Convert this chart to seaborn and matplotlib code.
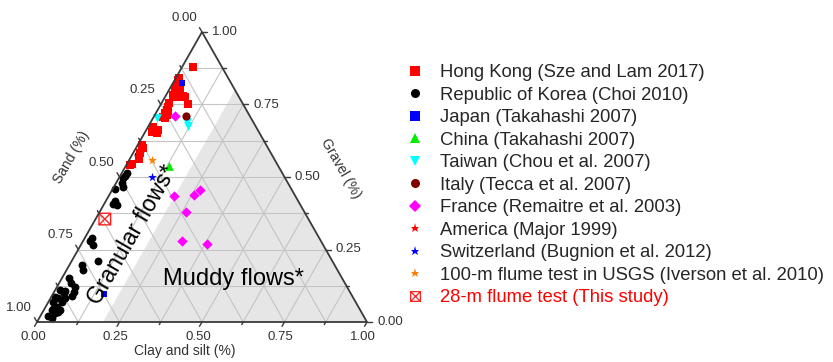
import numpy as np
import matplotlib
matplotlib.use("Agg")
import matplotlib.pyplot as plt
from matplotlib.path import Path
from matplotlib.lines import Line2D
import seaborn as sns

# Grain-size composition of debris-flow samples, as fractions.
# Each series: clay-and-silt fraction and gravel fraction; sand = 1 - clay - gravel.
hk_clay = [0.033, 0.009, 0.011, 0.017, 0.030, 0.020, 0.034, 0.053, 0.035, 0.022, 0.060,
           0.081, 0.024, 0.027, 0.027, 0.028, 0.034, 0.029, 0.037, 0.036, 0.015, 0.027,
           0.037, 0.038, 0.020, 0.012, 0.022, 0.021, 0.029, 0.015, 0.011]
hk_gravel = [0.879, 0.842, 0.834, 0.811, 0.807, 0.797, 0.789, 0.780, 0.777, 0.783, 0.777,
             0.752, 0.754, 0.742, 0.731, 0.720, 0.728, 0.708, 0.702, 0.714, 0.673, 0.662,
             0.662, 0.651, 0.656, 0.610, 0.599, 0.582, 0.561, 0.545, 0.541]

korea_clay = [0.017, 0.019, 0.016, 0.015, 0.012, 0.018, 0.028, 0.007, 0.028, 0.028, 0.040,
              0.021, 0.037, 0.080, 0.037, 0.051, 0.020, 0.038, 0.054, 0.015, 0.031, 0.031,
              0.061, 0.060, 0.011, 0.024, 0.044, 0.014, 0.040, 0.034, 0.024, 0.040, 0.047,
              0.049, 0.027, 0.023, 0.038, 0.021]
korea_gravel = [0.590, 0.576, 0.513, 0.503, 0.497, 0.478, 0.467, 0.458, 0.417, 0.407, 0.403,
                0.289, 0.264, 0.212, 0.197, 0.178, 0.151, 0.133, 0.122, 0.110, 0.099, 0.108,
                0.104, 0.090, 0.087, 0.082, 0.082, 0.070, 0.070, 0.053, 0.041, 0.030, 0.036,
                0.041, 0.044, 0.021, 0.014, 0.278]

japan_clay = [0.027, 0.155]
japan_gravel = [0.823, 0.097]

china_clay = [0.129]
china_gravel = [0.539]

taiwan_clay = [0.012, 0.108, 0.120]
taiwan_gravel = [0.702, 0.691, 0.677]

italy_clay = [0.096]
italy_gravel = [0.710]

france_clay = [0.063, 0.197, 0.265, 0.258, 0.261, 0.300, 0.381]
france_gravel = [0.710, 0.436, 0.455, 0.438, 0.380, 0.281, 0.269]

america_clay = [0.020]
america_gravel = [0.665]

swiss_clay = [0.097]
swiss_gravel = [0.501]

usgs_clay = [0.070]
usgs_gravel = [0.559]

study_clay = [0.028]
study_gravel = [0.355]

tick_values = [0.0, 0.25, 0.50, 0.75, 1.00]
tick_labels = ["0.00", "0.25", "0.50", "0.75", "1.00"]

H = np.sqrt(3) / 2


def to_xy(clay, gravel):
    clay = np.asarray(clay, float)
    gravel = np.asarray(gravel, float)
    return clay + gravel / 2, gravel * H


sns.set_style("white")
plt.rcParams["font.family"] = ["Liberation Sans", "DejaVu Sans"]

fig = plt.figure(figsize=(8.33, 3.62), dpi=100)
# triangle occupies pixels x 37..367, y 32..322
ax = fig.add_axes([37 / 833, 40 / 362, 330 / 833, 290 / 362])
ax.set_xlim(0, 1)
ax.set_ylim(0, H)
ax.axis("off")

PX_X = 1 / 330.0   # data units per pixel, horizontal
PX_Y = H / 290.0   # data units per pixel, vertical

# muddy-flow field: clay and silt >= 0.2
mx, my = to_xy([0.2, 1.0, 0.2], [0.0, 0.0, 0.8])
ax.fill(mx, my, color="#e6e6e6", zorder=0, lw=0)

# grid lines every 0.125 in each component
grid_kw = dict(color="#c4c4c4", lw=0.8, zorder=1)
for v in np.arange(0.125, 1.0, 0.125):
    # constant gravel
    x, y = to_xy([0, 1 - v], [v, v])
    ax.plot(x, y, **grid_kw)
    # constant clay
    x, y = to_xy([v, v], [0, 1 - v])
    ax.plot(x, y, **grid_kw)
    # constant sand
    x, y = to_xy([1 - v, 0], [0, 1 - v])
    ax.plot(x, y, **grid_kw)

# outline
ox, oy = to_xy([0, 1, 0, 0], [0, 0, 1, 0])
ax.plot(ox, oy, color="#3a3a3a", lw=1.3, zorder=5, solid_joinstyle="miter",
        clip_on=False)

edge_kw = dict(color="#3a3a3a", lw=1.0, zorder=5, clip_on=False)
lab_kw = dict(fontsize=9.5, color="#333333", zorder=6)
for v in np.arange(0, 1.0001, 0.125):
    L = 5 if abs(v * 4 - round(v * 4)) < 1e-9 else 3
    # clay (bottom edge), ticks down-left
    bx, by = to_xy([v], [0])
    ax.plot([bx[0], bx[0] - 0.5 * L * PX_X], [by[0], by[0] - 0.866 * L * PX_Y], **edge_kw)
    # gravel (right edge), ticks to the right
    rx, ry = to_xy([1 - v], [v])
    ax.plot([rx[0], rx[0] + L * PX_X], [ry[0], ry[0]], **edge_kw)
    # sand (left edge), ticks up-left
    lx, ly = to_xy([0], [1 - v])
    ax.plot([lx[0], lx[0] - 0.5 * L * PX_X], [ly[0], ly[0] + 0.866 * L * PX_Y], **edge_kw)

for v, t in zip(tick_values, tick_labels):
    bx, by = to_xy([v], [0])
    ax.text(bx[0] - 4 * PX_X, by[0] - 15 * PX_Y, t, ha="center", va="center", **lab_kw)
    rx, ry = to_xy([1 - v], [v])
    ax.text(rx[0] + 10 * PX_X, ry[0], t, ha="left", va="center", **lab_kw)
    lx, ly = to_xy([0], [1 - v])
    ax.text(lx[0] - 5 * PX_X, ly[0] + 14 * PX_Y, t, ha="right", va="center", **lab_kw)

ax.text(0.448, -0.0866, "Clay and silt (%)", ha="center", va="center",
        fontsize=10, color="#333333")
ax.text((341 - 37) * PX_X, (322 - 168) * PX_Y, "Gravel (%)", ha="center", va="center",
        rotation=-60, fontsize=10, color="#333333")
ax.text((71 - 37) * PX_X, (322 - 157) * PX_Y, "Sand (%)", ha="center", va="center",
        rotation=60, fontsize=10, color="#333333")

ax.text((163 - 37) * PX_X, (322 - 285) * PX_Y, "Muddy flows*", ha="left", va="baseline",
        fontsize=17, color="black", zorder=7)
ax.text((133 - 37) * PX_X, (322 - 235) * PX_Y, "Granular flows*", ha="center",
        va="center", rotation=60, rotation_mode="anchor", fontsize=16.5,
        color="black", zorder=7)

# hollow square with a cross
box_x = Path([(-1, -1), (1, -1), (1, 1), (-1, 1), (-1, -1),
              (-1, -1), (1, 1), (-1, 1), (1, -1)],
             [Path.MOVETO, Path.LINETO, Path.LINETO, Path.LINETO, Path.CLOSEPOLY,
              Path.MOVETO, Path.LINETO, Path.MOVETO, Path.LINETO])

series = [
    ("Republic of Korea (Choi 2010)", korea_clay, korea_gravel, "o", "black", 32),
    ("Hong Kong (Sze and Lam 2017)", hk_clay, hk_gravel, "s", "#ff0000", 32),
    ("Japan (Takahashi 2007)", japan_clay, japan_gravel, "s", "#0000ff", 25),
    ("China (Takahashi 2007)", china_clay, china_gravel, "^", "#00ee00", 40),
    ("Taiwan (Chou et al. 2007)", taiwan_clay, taiwan_gravel, "v", "#00ffff", 40),
    ("Italy (Tecca et al. 2007)", italy_clay, italy_gravel, "o", "#800000", 35),
    ("France (Remaitre et al. 2003)", france_clay, france_gravel, "D", "#ff00ff", 28),
    ("America (Major 1999)", america_clay, america_gravel, "*", "#ff0000", 45),
    ("Switzerland (Bugnion et al. 2012)", swiss_clay, swiss_gravel, "*", "#0000ff", 45),
    ("100-m flume test in USGS (Iverson et al. 2010)", usgs_clay, usgs_gravel, "*",
     "#ff8000", 45),
]
for name, c, g, m, col, s in series:
    x, y = to_xy(c, g)
    sns.scatterplot(x=x, y=y, ax=ax, marker=m, color=col, s=s, linewidth=0,
                    legend=False, zorder=4, clip_on=False)

sx, sy = to_xy(study_clay, study_gravel)
ax.scatter(sx, sy, marker=box_x, s=70, facecolors="none", edgecolors="#ff2020",
           linewidths=1.0, zorder=4)

legend_items = [
    ("Hong Kong (Sze and Lam 2017)", "s", "#ff0000"),
    ("Republic of Korea (Choi 2010)", "o", "black"),
    ("Japan (Takahashi 2007)", "s", "#0000ff"),
    ("China (Takahashi 2007)", "^", "#00ee00"),
    ("Taiwan (Chou et al. 2007)", "v", "#00ffff"),
    ("Italy (Tecca et al. 2007)", "o", "#800000"),
    ("France (Remaitre et al. 2003)", "D", "#ff00ff"),
    ("America (Major 1999)", "*", "#ff0000"),
    ("Switzerland (Bugnion et al. 2012)", "*", "#0000ff"),
    ("100-m flume test in USGS (Iverson et al. 2010)", "*", "#ff8000"),
]
handles = [Line2D([], [], marker=m, color=c, linestyle="none", markersize=6.5,
                  markeredgewidth=0) for _, m, c in legend_items]
labels = [n for n, _, _ in legend_items]
handles.append(Line2D([], [], marker=box_x, linestyle="none", markersize=7,
                      markerfacecolor="none", markeredgecolor="#ff2020",
                      markeredgewidth=0.9))
labels.append("28-m flume test (This study)")

leg = fig.legend(handles, labels, loc="upper left",
                 bbox_to_anchor=(406 / 833, (362 - 64) / 362),
                 frameon=False, borderpad=0, borderaxespad=0, fontsize=13.3,
                 handlelength=1.0, handletextpad=0.84, labelspacing=0.30)
leg.get_texts()[-1].set_color("#ff0000")

fig.savefig("out.png", dpi=100)
